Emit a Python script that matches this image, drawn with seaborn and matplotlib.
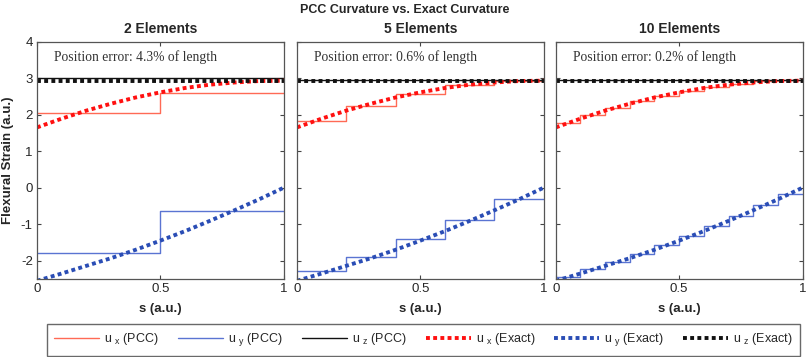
import numpy as np
import pandas as pd
import matplotlib
matplotlib.use("Agg")
import matplotlib.pyplot as plt
import seaborn as sns

# Data
s_exact = [0.0, 0.1, 0.2, 0.3, 0.4, 0.5, 0.6, 0.7, 0.8, 0.9, 1.0]
ux_exact = [1.65, 1.89, 2.11, 2.30, 2.47, 2.61, 2.73, 2.82, 2.88, 2.92, 2.93]
uy_exact = [-2.55, -2.35, -2.14, -1.93, -1.70, -1.45, -1.19, -0.91, -0.62, -0.32, 0.0]
uz_exact = [2.93] * 11

elements = [2, 5, 10]
pos_error = ["4.3%", "0.6%", "0.2%"]
ux_pcc = [
    [2.05, 2.60],
    [1.83, 2.24, 2.57, 2.81, 2.92],
    [1.76, 1.98, 2.19, 2.36, 2.51, 2.65, 2.76, 2.84, 2.91, 2.94],
]
uy_pcc = [
    [-1.80, -0.65],
    [-2.27, -1.89, -1.40, -0.88, -0.30],
    [-2.45, -2.24, -2.03, -1.81, -1.58, -1.32, -1.05, -0.77, -0.48, -0.17],
]
uz_pcc = [3.0, 2.95, 2.95]

red_pcc, blue_pcc, black = "#ff6a55", "#5a74d2", "#111111"
red_ex, blue_ex = "#ff1010", "#2a4db5"
dots = (0, (1, 0.85))

sns.set_style("ticks")
plt.rcParams["font.family"] = ["Liberation Sans", "DejaVu Sans"]
plt.rcParams["mathtext.fontset"] = "custom"
plt.rcParams["mathtext.rm"] = "Liberation Sans"
plt.rcParams["axes.unicode_minus"] = False

fig = plt.figure(figsize=(8.09, 3.57), dpi=100)
lefts = [0.0457, 0.367, 0.687]
axes = [fig.add_axes([l, 0.2185, 0.305, 0.665]) for l in lefts]

for i, ax in enumerate(axes):
    n = elements[i]
    edges = np.linspace(0, 1, n + 1)
    df = pd.DataFrame({
        "s": edges,
        "ux": ux_pcc[i] + [ux_pcc[i][-1]],
        "uy": uy_pcc[i] + [uy_pcc[i][-1]],
        "uz": [uz_pcc[i]] * (n + 1),
    })
    ex = pd.DataFrame({"s": s_exact, "ux": ux_exact, "uy": uy_exact, "uz": uz_exact})

    sns.lineplot(data=df, x="s", y="ux", ax=ax, color=red_pcc, lw=1, drawstyle="steps-post", label="u $_\\mathregular{x}$ (PCC)")
    sns.lineplot(data=df, x="s", y="uy", ax=ax, color=blue_pcc, lw=1, drawstyle="steps-post", label="u $_\\mathregular{y}$ (PCC)")
    sns.lineplot(data=df, x="s", y="uz", ax=ax, color=black, lw=1, drawstyle="steps-post", label="u $_\\mathregular{z}$ (PCC)")
    sns.lineplot(data=ex, x="s", y="ux", ax=ax, color=red_ex, lw=2.8, ls=dots, label="u $_\\mathregular{x}$ (Exact)")
    sns.lineplot(data=ex, x="s", y="uy", ax=ax, color=blue_ex, lw=2.8, ls=dots, label="u $_\\mathregular{y}$ (Exact)")
    sns.lineplot(data=ex, x="s", y="uz", ax=ax, color=black, lw=2.8, ls=dots, label="u $_\\mathregular{z}$ (Exact)")

    ax.set_xlim(0, 1)
    ax.set_ylim(-2.5, 4)
    ax.set_xticks([0, 0.5, 1])
    ax.set_xticklabels(["0", "0.5", "1"])
    ax.set_yticks([-2, -1, 0, 1, 2, 3, 4])
    ax.tick_params(direction="in", top=True, right=True, labelsize=9.5, length=3, pad=3, color="#444444")
    for sp in ax.spines.values():
        sp.set_visible(True)
        sp.set_color("#555555")
        sp.set_linewidth(0.9)
    if i > 0:
        ax.set_yticklabels([])
        ax.set_ylabel("")
    else:
        ax.set_ylabel("Flexural Strain (a.u.)", fontweight="bold", fontsize=9.5, labelpad=5)
    ax.set_xlabel("s (a.u.)", fontweight="bold", fontsize=9.5, labelpad=6)
    ax.set_title(f"{n} Elements", fontweight="bold", fontsize=10, pad=6)
    ax.text(0.07, 0.935, f"Position error: {pos_error[i]} of length", transform=ax.transAxes,
            family="Liberation Serif", fontsize=9.8, color="#333333", va="center")
    handles, labels = ax.get_legend_handles_labels()
    ax.get_legend().remove()

fig.suptitle("PCC Curvature vs. Exact Curvature", fontweight="bold", fontsize=9, y=0.99)

leg = fig.legend(handles, labels, loc="center", ncol=6, mode="expand",
                 bbox_to_anchor=(0.058, 0.008, 0.931, 0.081), fontsize=9,
                 handlelength=3.6, handletextpad=0.4, frameon=True, fancybox=False,
                 borderaxespad=0, borderpad=0.6)
leg.get_frame().set_edgecolor("#444444")
leg.get_frame().set_linewidth(1)

fig.savefig("out.png", dpi=100)
